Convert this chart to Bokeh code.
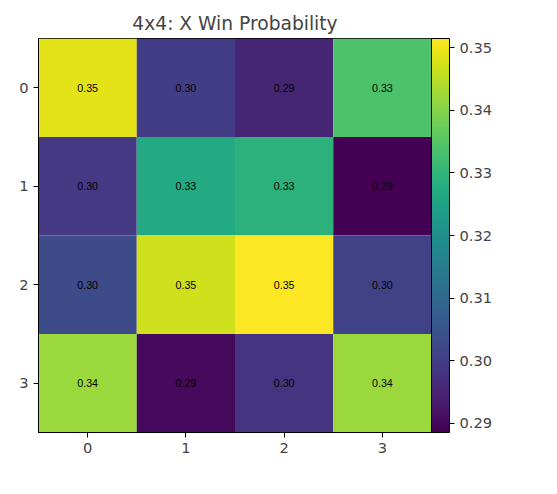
from bokeh.plotting import figure
from bokeh.models import ColumnDataSource, ColorBar, LinearColorMapper, FixedTicker, PrintfTickFormatter
from bokeh.palettes import Viridis256
from bokeh.embed import file_html
from bokeh.resources import INLINE

rows = [0, 0, 0, 0, 1, 1, 1, 1, 2, 2, 2, 2, 3, 3, 3, 3]
cols = [0, 1, 2, 3, 0, 1, 2, 3, 0, 1, 2, 3, 0, 1, 2, 3]
probs = [0.349, 0.300, 0.295, 0.334,
         0.299, 0.327, 0.329, 0.2885,
         0.303, 0.347, 0.3515, 0.301,
         0.342, 0.290, 0.298, 0.342]
tick_labels = ["0", "1", "2", "3"]

src = ColumnDataSource(dict(x=cols, y=rows, v=probs,
                            lab=["%.2f" % v for v in probs]))
mapper = LinearColorMapper(palette=Viridis256, low=min(probs), high=max(probs))

p = figure(title="4x4: X Win Probability", x_range=(-0.5, 3.5), y_range=(3.5, -0.5),
           frame_width=393, frame_height=394, output_backend="svg",
           toolbar_location=None, min_border_left=38, min_border_top=38)
p.title.align = "center"
p.title.text_font = "DejaVu Sans"
p.title.text_font_style = "normal"
p.title.text_font_size = "14pt"
p.rect(x="x", y="y", width=1, height=1, source=src,
       fill_color={"field": "v", "transform": mapper}, line_color=None)
p.text(x="x", y="y", text="lab", source=src, text_align="center",
       text_baseline="middle", text_font_size="8pt", text_color="black")
p.grid.visible = False
for ax in (p.xaxis, p.yaxis):
    ax.ticker = FixedTicker(ticks=[0, 1, 2, 3])
    ax.major_label_overrides = {i: t for i, t in enumerate(tick_labels)}
    ax.major_label_text_font_size = "11pt"
    ax.major_label_text_font = "DejaVu Sans"
    ax.minor_tick_line_color = None
    ax.major_tick_out = 5
    ax.major_tick_in = 0
p.outline_line_color = "black"

cb = ColorBar(color_mapper=mapper, width=18, height=394, padding=0,
              ticker=FixedTicker(ticks=[0.29, 0.30, 0.31, 0.32, 0.33, 0.34, 0.35]),
              formatter=PrintfTickFormatter(format="%.2f"),
              major_label_text_font_size="11pt", major_label_text_font="DejaVu Sans",
              bar_line_color="black", major_tick_line_color="black",
              major_tick_out=5, major_tick_in=0, margin=18)
p.add_layout(cb, "right")

open("out.html", "w").write(file_html(p, INLINE))
